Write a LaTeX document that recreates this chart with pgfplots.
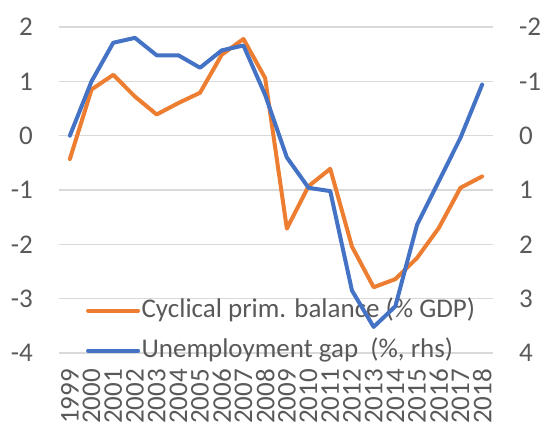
\documentclass[border=0pt]{standalone}
\usepackage{pgfplots}
\pgfplotsset{compat=1.18}
\usepackage{fontspec}
\setmainfont{Carlito}
\definecolor{cOrange}{HTML}{ED7D31}
\definecolor{cBlue}{HTML}{4472C4}
\definecolor{cGrid}{HTML}{D9D9D9}
\definecolor{cText}{HTML}{595959}
\pgfplotstableread{
x cpb
0 -0.43
1 0.85
2 1.12
3 0.72
4 0.39
5 0.60
6 0.79
7 1.49
8 1.78
9 1.06
10 -1.71
11 -0.93
12 -0.61
13 -2.04
14 -2.79
15 -2.64
16 -2.25
17 -1.70
18 -0.96
19 -0.75
}\cpbdata
\pgfplotstableread{
x gap
0 0.00
1 -1.00
2 -1.71
3 -1.80
4 -1.48
5 -1.48
6 -1.25
7 -1.57
8 -1.66
9 -0.75
10 0.40
11 0.96
12 1.02
13 2.85
14 3.52
15 3.14
16 1.64
17 0.84
18 0.04
19 -0.94
}\gapdata
\begin{document}
\begin{tikzpicture}
\useasboundingbox (0bp,0bp) rectangle (540bp,429bp);
\pgfplotsset{
  every axis/.append style={
    at={(59bp,76bp)}, anchor=south west,
    scale only axis, width=434bp, height=326bp,
    xmin=-0.5, xmax=19.5,
    axis line style={draw=none},
    major tick length=0pt,
    tick label style={font=\fontsize{27bp}{32bp}\selectfont, text=cText, inner sep=0pt},
    /pgf/number format/assume math mode=true,
  }
}
\begin{axis}[
  ymin=-4, ymax=2,
  ytick={-4,-3,-2,-1,0,1,2},
  yticklabels={-4,-3,-2,-1,0,1,2},
  ymajorgrids,
  grid style={cGrid, line width=1.6bp},
  xtick={0,...,19},
  xticklabels={1999,2000,2001,2002,2003,2004,2005,2006,2007,2008,2009,2010,2011,2012,2013,2014,2015,2016,2017,2018},
  x tick label style={rotate=90, anchor=east},
  xticklabel shift=16bp,
  yticklabel shift=26bp,
  legend cell align=left,
  legend image code/.code={\draw[#1] (0bp,0bp) -- (50bp,0bp);},
  legend style={at={(0.062,0.069)}, anchor=west, draw=none, fill=none,
    inner sep=0pt, font=\fontsize{27bp}{32bp}\selectfont, text=cText,
    row sep=12bp,
    nodes={inner sep=1.5bp, text height=19bp, text depth=6bp}},
]
\addplot[cOrange, line width=4bp, line join=round, line cap=round] table[x=x, y=cpb] {\cpbdata};
\addlegendentry{Cyclical prim. balance (\% GDP)}
\addlegendimage{cBlue, line width=4bp, line join=round, line cap=round}
\addlegendentry{Unemployment gap\ \ (\%, rhs)}
\end{axis}
\begin{axis}[
  ymin=-2, ymax=4, y dir=reverse,
  axis y line*=right,
  hide x axis,
  ytick={-2,-1,0,1,2,3,4},
  yticklabels={-2,-1,0,1,2,3,4},
  yticklabel shift=26bp,
]
\addplot[cBlue, line width=4bp, line join=round, line cap=round] table[x=x, y=gap] {\gapdata};
\end{axis}
\end{tikzpicture}
\end{document}
